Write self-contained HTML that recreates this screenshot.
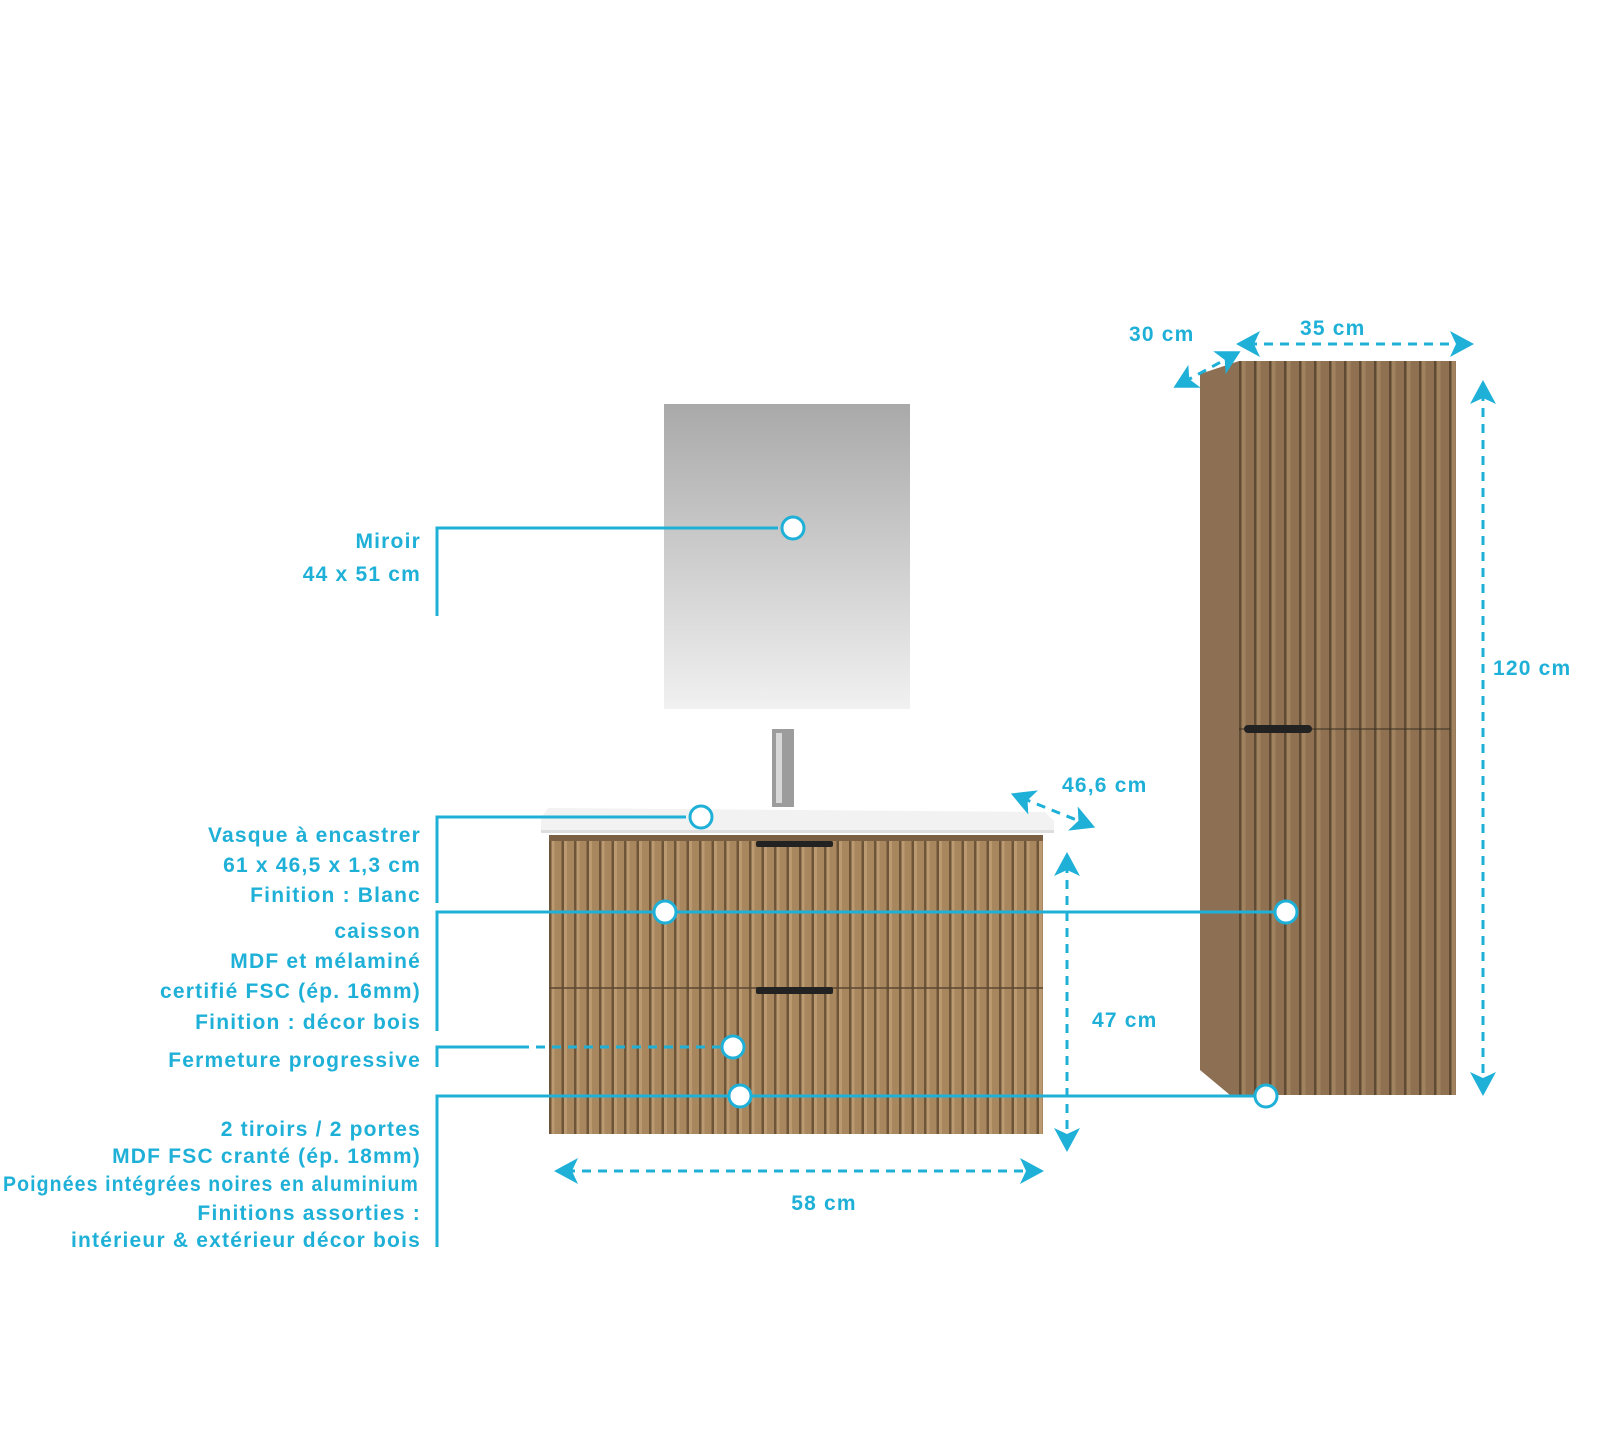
<!DOCTYPE html>
<html><head><meta charset="utf-8"><style>
html,body{margin:0;padding:0;background:#fff}
svg{display:block}
text{font-family:"Liberation Sans",sans-serif;font-weight:bold;fill:#1fb0d8;font-size:21px;letter-spacing:1.2px}
</style></head><body>
<svg width="1600" height="1443" viewBox="0 0 1600 1443" xmlns="http://www.w3.org/2000/svg">
<defs>
<linearGradient id="mir" x1="0" y1="0" x2="0" y2="1">
<stop offset="0" stop-color="#a9a9a9"/><stop offset="1" stop-color="#f1f1f1"/></linearGradient>
<pattern id="wood" x="549" y="0" width="12.5" height="20" patternUnits="userSpaceOnUse">
<rect width="12.5" height="20" fill="#a8875f"/><rect x="0" width="2.5" height="20" fill="#6f5538"/><rect x="2.5" width="3" height="20" fill="#bb9a72"/></pattern>
<pattern id="wood2" x="1239" y="0" width="15" height="20" patternUnits="userSpaceOnUse">
<rect width="15" height="20" fill="#8f7152"/><rect x="0" width="2.5" height="20" fill="#5f4a33"/><rect x="2.5" width="4" height="20" fill="#a0825f"/></pattern>
<marker id="ah" viewBox="-16 -16 32 32" refX="0" refY="0" markerWidth="32" markerHeight="32" orient="auto-start-reverse" markerUnits="userSpaceOnUse">
<path d="M12,0 L-12,-13 L-6,0 L-12,13 Z" fill="#1fb0d8"/></marker>
</defs>

<rect x="664" y="404" width="246" height="305" fill="url(#mir)"/>

<rect x="772" y="729" width="22" height="78" fill="#9c9c9c"/>
<rect x="776" y="733" width="6" height="70" fill="#d8d8d8"/>

<path d="M548,808 L1045,812 L1054,821 L1054,833 L541,833 L541,818 Z" fill="#f2f2f2"/>
<rect x="541" y="830" width="513" height="3" fill="#ddd"/>
<rect x="549" y="835" width="494" height="299" fill="url(#wood)"/>
<rect x="549" y="835" width="494" height="6" fill="#7a5f42"/>
<line x1="549" y1="988" x2="1043" y2="988" stroke="#5a4630" stroke-width="1.5"/>
<rect x="756" y="841" width="77" height="6" rx="2" fill="#222"/>
<rect x="756" y="987" width="77" height="7" rx="2" fill="#222"/>

<path d="M1200,374 L1239,361 L1239,1095 L1230,1095 L1200,1070 Z" fill="#8d7053"/>
<rect x="1239" y="361" width="217" height="734" fill="url(#wood2)"/>
<line x1="1239" y1="729" x2="1450" y2="729" stroke="#3a2d20" stroke-width="1"/>
<rect x="1244" y="725" width="68" height="8" rx="4" fill="#222"/>

<g stroke="#1fb0d8" stroke-width="3" fill="none">
<path d="M437,616 L437,528 L778,528"/>
<path d="M437,903 L437,817 L686,817"/>
<path d="M437,1031 L437,912 L1286,912"/>
<path d="M437,1067 L437,1047 L520,1047"/>
<path d="M520,1047 L720,1047" stroke-dasharray="9,7"/>
<path d="M437,1247 L437,1096 L1266,1096"/>
</g>
<g fill="#fff" stroke="#1fb0d8" stroke-width="3">
<circle cx="793" cy="528" r="11"/>
<circle cx="701" cy="817" r="11"/>
<circle cx="665" cy="912" r="11"/>
<circle cx="1286" cy="912" r="11"/>
<circle cx="733" cy="1047" r="11"/>
<circle cx="740" cy="1096" r="11"/>
<circle cx="1266" cy="1096" r="11"/>
</g>

<g stroke="#1fb0d8" stroke-width="3" stroke-dasharray="9,7" fill="none">
<line x1="566" y1="1171" x2="1032" y2="1171" marker-start="url(#ah)" marker-end="url(#ah)"/>
<line x1="1067" y1="864" x2="1067" y2="1140" marker-start="url(#ah)" marker-end="url(#ah)"/>
<line x1="1022" y1="798" x2="1084" y2="823" marker-start="url(#ah)" marker-end="url(#ah)"/>
<line x1="1483" y1="392" x2="1483" y2="1084" marker-start="url(#ah)" marker-end="url(#ah)"/>
<line x1="1248" y1="344" x2="1462" y2="344" marker-start="url(#ah)" marker-end="url(#ah)"/>
<line x1="1184" y1="382" x2="1230" y2="357" marker-start="url(#ah)" marker-end="url(#ah)"/>
</g>

<g style="font-size:24px;letter-spacing:1.2px">
<text x="824" y="1210" text-anchor="middle">58 cm</text>
<text x="1092" y="1027">47  cm</text>
<text x="1062" y="792">46,6  cm</text>
<text x="1493" y="675">120 cm</text>
<text x="1300" y="335">35 cm</text>
<text x="1129" y="341">30  cm</text>
</g>

<g text-anchor="end">
<text x="421" y="548">Miroir</text>
<text x="421" y="581">44 x 51 cm</text>
<text x="421" y="842">Vasque à encastrer</text>
<text x="421" y="872">61 x 46,5 x 1,3 cm</text>
<text x="421" y="902">Finition : Blanc</text>
<text x="421" y="938">caisson</text>
<text x="421" y="968">MDF et mélaminé</text>
<text x="421" y="998">certifié FSC (ép. 16mm)</text>
<text x="421" y="1029">Finition : décor bois</text>
<text x="421" y="1067">Fermeture progressive</text>
<text x="421" y="1136">2 tiroirs / 2 portes</text>
<text x="421" y="1163">MDF FSC cranté (ép. 18mm)</text>
<text x="419" y="1191" textLength="416" lengthAdjust="spacingAndGlyphs">Poignées intégrées noires en aluminium</text>
<text x="421" y="1220">Finitions assorties :</text>
<text x="421" y="1247">intérieur &amp; extérieur décor bois</text>
</g>
</svg>
</body></html>
